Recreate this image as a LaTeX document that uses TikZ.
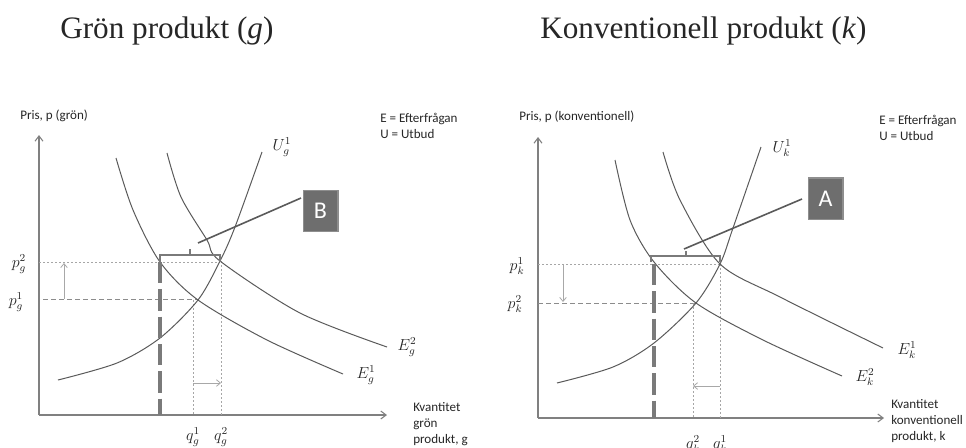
\documentclass[tikz,border=0pt]{standalone}
\usepackage{fontspec}
\setmainfont{Liberation Serif}
\newfontfamily\calib{Carlito}
\usetikzlibrary{arrows.meta}
\definecolor{axisgray}{HTML}{808080}
\definecolor{curvegray}{HTML}{5A5A5A}
\definecolor{dotgray}{HTML}{A6A6A6}
\definecolor{dashgray}{HTML}{8C8C8C}
\definecolor{thickgray}{HTML}{7A7A7A}
\definecolor{arrowgray}{HTML}{A8A8A8}
\definecolor{boxfill}{HTML}{6E6E6E}
\definecolor{boxborder}{HTML}{8E8E8E}
\begin{document}
\begin{tikzpicture}[x=0.75pt,y=-0.75pt,
  axis/.style={draw=axisgray, line width=0.8pt, -{Straight Barb[length=4pt,width=6pt]}},
  curve/.style={draw=curvegray, line width=0.75pt},
  dotline/.style={draw=dotgray, line width=0.5pt, dash pattern=on 1.5pt off 1.5pt},
  dashline/.style={draw=dashgray, line width=0.75pt, dash pattern=on 4pt off 2pt},
  thickdash/.style={draw=thickgray, line width=2.4pt, dash pattern=on 16pt off 4.5pt},
  shiftarrow/.style={draw=arrowgray, line width=0.6pt, -{Straight Barb[length=3pt,width=5pt]}},
  bracket/.style={draw=thickgray, line width=1.6pt},
  pointer/.style={draw=curvegray, line width=1.2pt},
  letterbox/.style={fill=boxfill, draw=boxborder, line width=1pt, minimum width=26pt, minimum height=31pt, inner sep=0pt, text=white, font=\calib\fontsize{18}{20}\selectfont},
  sans/.style={font=\calib\fontsize{9.8}{12}\selectfont, inner sep=0pt, text=black!85},
  mlab/.style={font=\fontsize{12}{14}\selectfont, inner sep=0pt, text=black!85},
  title/.style={font=\fontsize{23.4}{26}\selectfont, inner sep=0pt, anchor=base west, text=black!85}
]
\useasboundingbox (0,0) rectangle (966,447);

% titles
\node[title] (t1) at (60,38) {Grön produkt (\textit{g})};
\node[title] (t2) at (540,38) {Konventionell produkt (\textit{k})};

% ================= LEFT PANEL =================
\coordinate (lo) at (39,415);
\coordinate (ly) at (39,135);
\coordinate (lx) at (387,415);
\draw[axis] (lo) -- (ly);
\draw[axis] (lo) -- (lx);
\node[sans, anchor=west] (lpris) at (20,116) {Pris, p (grön)};
\node[sans, anchor=west, align=left] (lleg) at (380,126) {E = Efterfrågan\\U = Utbud};
\node[sans, anchor=west, align=left] (lkv) at (413,424) {Kvantitet\\grön\\produkt, g};

% guide lines
\coordinate (lp2a) at (39,262); \coordinate (lp2b) at (220,262);
\coordinate (lp1a) at (43,299); \coordinate (lp1b) at (198,299);
\draw[dotline] (lp2a) -- (lp2b);
\draw[dashline] (lp1a) -- (lp1b);
\coordinate (lq1t) at (193,300); \coordinate (lq1b) at (193,415);
\coordinate (lq2t) at (221,261); \coordinate (lq2b) at (221,415);
\draw[dotline] (lq1t) -- (lq1b);
\draw[dotline] (lq2t) -- (lq2b);

% curves
\draw[curve] plot[smooth] coordinates {(58,380) (117,363) (160,338) (198,300) (220,261) (235,227) (262,152)};
\draw[curve] plot[smooth] coordinates {(116,158) (133,210) (160,262) (198,300) (267,340) (343,374)};
\draw[curve] plot[smooth] coordinates {(167,153) (181,197) (207,240) (220,261) (300,313) (387,347)};

% shift arrows
\coordinate (lua) at (64,299); \coordinate (lub) at (64,263);
\draw[shiftarrow] (lua) -- (lub);
\coordinate (lra) at (193,383); \coordinate (lrb) at (221,383);
\draw[shiftarrow] (lra) -- (lrb);

% thick dashed and bracket
\coordinate (ltd1) at (160,262); \coordinate (ltd2) at (160,415);
\draw[thickdash] (ltd1) -- (ltd2);
\draw[bracket] (160,263) -- (160,255) -- (220,255) -- (220,262);
\draw[bracket] (190,255) -- (190,249);

% pointer and box
\node[letterbox] (B) at (320.5,211) {B};
\coordinate (lps) at (198,243);
\coordinate (lpe) at (301,198);
\draw[pointer] (lps) -- (lpe);

% labels
\node[mlab] (Ug) at (282,147) {$U_g^1$};
\node[mlab] (Eg2) at (407,347) {$E_g^2$};
\node[mlab] (Eg1) at (366,375) {$E_g^1$};
\node[mlab] (pg2) at (19,264) {$p_g^2$};
\node[mlab] (pg1) at (16,302) {$p_g^1$};
\node[mlab] (qg1) at (193,437) {$q_g^1$};
\node[mlab] (qg2) at (221,437) {$q_g^2$};

% ================= RIGHT PANEL =================
\coordinate (ro) at (538,418);
\coordinate (ry) at (538,137);
\coordinate (rx) at (884,418);
\draw[axis] (ro) -- (ry);
\draw[axis] (ro) -- (rx);
\node[sans, anchor=west] (rpris) at (519,117) {Pris, p (konventionell)};
\node[sans, anchor=west, align=left] (rleg) at (879,128) {E = Efterfrågan\\U = Utbud};
\node[sans, anchor=west, align=left] (rkv) at (891,421) {Kvantitet\\konventionell\\produkt, k};

% guide lines
\coordinate (rp1a) at (538,264); \coordinate (rp1b) at (720,264);
\coordinate (rp2a) at (538,303); \coordinate (rp2b) at (696,303);
\draw[dotline] (rp1a) -- (rp1b);
\draw[dashline] (rp2a) -- (rp2b);
\coordinate (rq2t) at (693,303); \coordinate (rq2b) at (693,418);
\coordinate (rq1t) at (720,264); \coordinate (rq1b) at (720,418);
\draw[dotline] (rq2t) -- (rq2b);
\draw[dotline] (rq1t) -- (rq1b);

% curves
\draw[curve] plot[smooth] coordinates {(557,383) (613,367) (654,343) (696,303) (720,264) (733,228) (761,147)};
\draw[curve] plot[smooth] coordinates {(663,152) (680,200) (720,264) (780,297) (883,348)};
\draw[curve] plot[smooth] coordinates {(615,160) (630,220) (654,262) (696,303) (763,340) (842,376)};

% shift arrows
\coordinate (rda) at (563,264); \coordinate (rdb) at (563,302);
\draw[shiftarrow] (rda) -- (rdb);
\coordinate (rla) at (720,386); \coordinate (rlb) at (693,386);
\draw[shiftarrow] (rla) -- (rlb);

% thick dashed and bracket
\coordinate (rtd1) at (654,264); \coordinate (rtd2) at (654,418);
\draw[thickdash] (rtd1) -- (rtd2);
\draw[bracket] (651,262) -- (651,256) -- (720,256) -- (720,262);
\draw[bracket] (686,256) -- (686,251);

% pointer and box
\node[letterbox] (A) at (825.5,198.5) {A};
\coordinate (rps) at (684,249);
\coordinate (rpe) at (802,199);
\draw[pointer] (rps) -- (rpe);

% labels
\node[mlab] (Uk) at (782,148) {$U_k^1$};
\node[mlab] (Ek1) at (907,350) {$E_k^1$};
\node[mlab] (Ek2) at (865,377) {$E_k^2$};
\node[mlab] (pk1) at (517,266) {$p_k^1$};
\node[mlab] (pk2) at (515,304) {$p_k^2$};
\node[mlab] (qk2) at (693,444) {$q_k^2$};
\node[mlab] (qk1) at (720,444) {$q_k^1$};
\end{tikzpicture}
\end{document}
